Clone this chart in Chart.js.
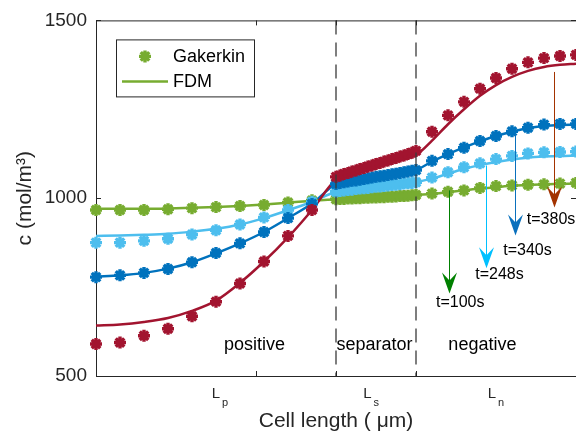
<!DOCTYPE html>
<html>
<head>
<meta charset="utf-8">
<script src="https://cdn.jsdelivr.net/npm/chart.js@4.4.0/dist/chart.umd.min.js"></script>
<style>
  html, body { margin: 0; padding: 0; background: #fff; overflow: hidden; }
  canvas { display: block; }
</style>
</head>
<body>
<canvas id="conc" width="576" height="438"></canvas>
<script>
// node positions along the cell: positive electrode, separator, negative electrode
const xPositive = [0, 0.3, 0.6, 0.9, 1.2, 1.5, 1.8, 2.1, 2.4, 2.7, 3.0];
const xSeparator = [3.05, 3.1, 3.15, 3.2, 3.25, 3.3, 3.35, 3.4, 3.45, 3.5,
                    3.55, 3.6, 3.65, 3.7, 3.75, 3.8, 3.85, 3.9, 3.95, 4.0];
const xNegative = [4.2, 4.4, 4.6, 4.8, 5.0, 5.2, 5.4, 5.6, 5.8, 6.0];
const xNodes = [...xPositive, ...xSeparator, ...xNegative];

// Galerkin solution, c in mol/m^3
const galT100 = [967, 967, 967, 969, 972, 975, 978, 981, 988, 994, 997,
                 998, 998, 999, 999, 1000, 1000, 1001, 1001, 1002, 1002,
                 1003, 1003, 1004, 1004, 1005, 1006, 1006, 1007, 1008, 1009,
                 1013, 1018, 1022, 1029, 1034, 1036, 1038, 1039, 1041, 1043];
const galT248 = [875, 875, 880, 886, 898, 910, 926, 946, 967, 990, 1018,
                 1020, 1022, 1023, 1024, 1026, 1027, 1028, 1029, 1031, 1032,
                 1033, 1034, 1036, 1037, 1038, 1039, 1041, 1042, 1043, 1045,
                 1058, 1073, 1087, 1098, 1110, 1119, 1126, 1129, 1130, 1131];
const galT340 = [778, 783, 790, 801, 820, 846, 873, 905, 944, 984, 1040,
                 1043, 1045, 1047, 1049, 1050, 1052, 1054, 1056, 1058, 1060,
                 1062, 1063, 1065, 1067, 1069, 1071, 1073, 1075, 1077, 1079,
                 1105, 1124, 1142, 1161, 1175, 1188, 1198, 1207, 1209, 1209];
const galT380 = [590, 594, 613, 633, 668, 709, 760, 822, 894, 967, 1060,
                 1064, 1068, 1071, 1075, 1078, 1082, 1085, 1089, 1092, 1096,
                 1099, 1103, 1106, 1110, 1113, 1117, 1120, 1124, 1128, 1133,
                 1187, 1233, 1271, 1308, 1338, 1364, 1382, 1394, 1400, 1403];

// finite difference solution on the same nodes
const fdmT100 = [970, 970, 970, 971, 973, 975, 978, 982, 987, 993, 997,
                 998, 998, 999, 999, 1000, 1000, 1001, 1001, 1002, 1002,
                 1003, 1003, 1004, 1004, 1005, 1006, 1006, 1007, 1008, 1009,
                 1012, 1017, 1022, 1027, 1031, 1035, 1037, 1039, 1040, 1041];
const fdmT248 = [894, 895, 897, 900, 906, 914, 926, 944, 966, 990, 1018,
                 1020, 1022, 1023, 1024, 1026, 1027, 1028, 1029, 1031, 1032,
                 1033, 1034, 1036, 1037, 1038, 1039, 1041, 1042, 1043, 1045,
                 1055, 1069, 1082, 1093, 1102, 1109, 1114, 1117, 1119, 1120];
const fdmT340 = [779, 783, 790, 802, 820, 845, 873, 905, 944, 985, 1040,
                 1043, 1045, 1047, 1049, 1050, 1052, 1054, 1056, 1058, 1060,
                 1062, 1063, 1065, 1067, 1069, 1071, 1073, 1075, 1077, 1079,
                 1103, 1124, 1143, 1160, 1175, 1187, 1197, 1203, 1206, 1207];
const fdmT380 = [642, 645, 652, 663, 683, 712, 762, 822, 890, 967, 1052,
                 1055, 1059, 1062, 1066, 1069, 1072, 1076, 1079, 1083, 1086,
                 1089, 1093, 1096, 1100, 1103, 1107, 1110, 1113, 1117, 1121,
                 1162, 1208, 1250, 1288, 1318, 1341, 1358, 1369, 1375, 1378];

const yTicks = [500, 1000, 1500];
const xTicks = [2, 3, 4];
const regionBounds = [3, 4];
const regionNames = ['positive', 'separator', 'negative'];
const regionCenters = [1.98, 3.48, 4.83];
const lengthSubs = ['p', 's', 'n'];
const lengthCenters = [1.55, 3.44, 5.0];

// time markers: arrow from the curve down to the tip, label below
const timeLabels = ['t=100s', 't=248s', 't=340s', 't=380s'];
const timeArrowX = [4.41, 4.88, 5.24, 5.73];
const timeArrowFrom = [1022, 1092, 1180, 1355];
const timeArrowTo = [732, 803, 895, 974];
const timeLabelX = [4.25, 4.74, 5.09, 5.385];
const timeLabelY = [706, 785, 854, 941];
const timeColors = ['#008000', '#00c0ff', '#0a70bd', '#a33300'];

const FONT = '"Liberation Sans", Arial, Helvetica, sans-serif';
const AXIS = '#262626';
const colors = { t100: '#77AC30', t248: '#4DBEEE', t340: '#0072BD', t380: '#A2142F' };

const pts = arr => arr.map((v, i) => ({ x: xNodes[i], y: v }));

const galerkin = (vals, color, order) => ({
  data: pts(vals), showLine: false, order, clip: false,
  pointStyle: 'star', pointRadius: 6, pointBorderWidth: 3.4,
  pointBorderColor: color, pointBackgroundColor: color
});
const fdm = (vals, color, order) => ({
  data: pts(vals), order, clip: false,
  borderColor: color, borderWidth: 2.5, pointRadius: 0,
  cubicInterpolationMode: 'monotone'
});

function drawStar(ctx, cx, cy, r) {
  ctx.beginPath();
  for (let k = 0; k < 4; k++) {
    const a = k * Math.PI / 4;
    ctx.moveTo(cx - Math.cos(a) * r, cy - Math.sin(a) * r);
    ctx.lineTo(cx + Math.cos(a) * r, cy + Math.sin(a) * r);
  }
  ctx.stroke();
}

function drawArrow(ctx, px, y0, y1, color) {
  ctx.strokeStyle = color;
  ctx.fillStyle = color;
  ctx.lineWidth = 1;
  ctx.beginPath();
  ctx.moveTo(px, y0);
  ctx.lineTo(px, y1 - 10);
  ctx.stroke();
  ctx.beginPath();
  ctx.moveTo(px, y1);
  ctx.lineTo(px - 7.5, y1 - 21);
  ctx.lineTo(px, y1 - 13);
  ctx.lineTo(px + 7.5, y1 - 21);
  ctx.closePath();
  ctx.fill();
}

// box, inward ticks, region markers, annotations and legend
const decor = {
  id: 'decor',
  afterDatasetsDraw(chart) {
    const { ctx, chartArea: a, scales: { x, y } } = chart;
    ctx.save();

    // electrode / separator boundaries
    ctx.setLineDash([14, 8]);
    ctx.strokeStyle = '#3a3a3a';
    ctx.lineWidth = 1.3;
    regionBounds.forEach(b => {
      const px = x.getPixelForValue(b);
      ctx.beginPath();
      ctx.moveTo(px, a.top);
      ctx.lineTo(px, a.bottom);
      ctx.stroke();
    });
    ctx.setLineDash([]);

    // top border and tick marks
    ctx.strokeStyle = AXIS;
    ctx.lineWidth = 1;
    ctx.beginPath();
    ctx.moveTo(a.left, a.top + 0.5);
    ctx.lineTo(a.right, a.top + 0.5);
    yTicks.forEach(v => {
      const py = Math.round(y.getPixelForValue(v)) + 0.5;
      ctx.moveTo(a.left, py); ctx.lineTo(a.left + 5, py);
      ctx.moveTo(a.right, py); ctx.lineTo(a.right - 5, py);
    });
    xTicks.forEach(v => {
      const px = Math.round(x.getPixelForValue(v)) + 0.5;
      ctx.moveTo(px, a.bottom); ctx.lineTo(px, a.bottom - 5);
      ctx.moveTo(px, a.top); ctx.lineTo(px, a.top + 5);
    });
    ctx.stroke();

    // region names
    ctx.fillStyle = '#000';
    ctx.font = '18px ' + FONT;
    ctx.textAlign = 'center';
    ctx.textBaseline = 'alphabetic';
    regionNames.forEach((name, i) => {
      ctx.fillText(name, x.getPixelForValue(regionCenters[i]), y.getPixelForValue(572));
    });

    // L_p, L_s, L_n under the axis
    ctx.fillStyle = AXIS;
    ctx.textAlign = 'left';
    lengthSubs.forEach((sub, i) => {
      ctx.font = '15px ' + FONT;
      const lw = ctx.measureText('L').width;
      ctx.font = '11px ' + FONT;
      const sw = ctx.measureText(sub).width;
      const left = x.getPixelForValue(lengthCenters[i]) - (lw + 2 + sw) / 2;
      ctx.font = '15px ' + FONT;
      ctx.fillText('L', left, a.bottom + 22);
      ctx.font = '11px ' + FONT;
      ctx.fillText(sub, left + lw + 2, a.bottom + 30);
    });

    // time arrows
    timeLabels.forEach((lab, i) => {
      const px = Math.round(x.getPixelForValue(timeArrowX[i])) + 0.5;
      drawArrow(ctx, px, y.getPixelForValue(timeArrowFrom[i]), y.getPixelForValue(timeArrowTo[i]), timeColors[i]);
      ctx.fillStyle = '#000';
      ctx.font = '16px ' + FONT;
      ctx.textAlign = 'left';
      ctx.textBaseline = 'middle';
      ctx.fillText(lab, x.getPixelForValue(timeLabelX[i]), y.getPixelForValue(timeLabelY[i]));
    });

    // legend
    const lx = a.left + 20, ly = a.top + 19;
    ctx.fillStyle = '#fff';
    ctx.fillRect(lx, ly, 138, 57);
    ctx.strokeStyle = AXIS;
    ctx.lineWidth = 1;
    ctx.strokeRect(lx + 0.5, ly + 0.5, 138, 57);
    ctx.strokeStyle = colors.t100;
    ctx.lineWidth = 3.4;
    drawStar(ctx, lx + 29, ly + 17, 6);
    ctx.lineWidth = 2.5;
    ctx.beginPath();
    ctx.moveTo(lx + 6, ly + 42);
    ctx.lineTo(lx + 52, ly + 42);
    ctx.stroke();
    ctx.fillStyle = '#000';
    ctx.font = '18px ' + FONT;
    ctx.textBaseline = 'middle';
    ctx.fillText('Gakerkin', lx + 57, ly + 18);
    ctx.fillText('FDM', lx + 57, ly + 43);

    ctx.restore();
  }
};

new Chart(document.getElementById('conc').getContext('2d'), {
  type: 'line',
  data: {
    datasets: [
      galerkin(galT380, colors.t380, 1),
      galerkin(galT340, colors.t340, 2),
      galerkin(galT248, colors.t248, 3),
      galerkin(galT100, colors.t100, 4),
      fdm(fdmT380, colors.t380, 5),
      fdm(fdmT340, colors.t340, 6),
      fdm(fdmT248, colors.t248, 7),
      fdm(fdmT100, colors.t100, 8)
    ]
  },
  options: {
    responsive: false,
    animation: false,
    layout: { autoPadding: false, padding: { top: 14, right: 0, left: 0, bottom: 0 } },
    plugins: { legend: { display: false }, tooltip: { enabled: false } },
    scales: {
      x: {
        type: 'linear', min: 0, max: 6,
        grid: { display: false, drawTicks: false },
        border: { display: true, color: AXIS, width: 1 },
        ticks: { display: false },
        title: {
          display: true, text: 'Cell length ( \u03bcm)', color: AXIS,
          font: { family: FONT, size: 21 }, padding: { top: 0, bottom: 4 }
        },
        afterFit: s => { s.height = 62; }
      },
      y: {
        min: 500, max: 1500,
        grid: { display: false, drawTicks: false },
        border: { display: true, color: AXIS, width: 1 },
        afterBuildTicks: s => { s.ticks = yTicks.map(v => ({ value: v })); },
        ticks: {
          color: AXIS, padding: 9, font: { family: FONT, size: 19 },
          callback: v => String(v)
        },
        title: {
          display: true, text: 'c (mol/m\u00b3)', color: AXIS,
          font: { family: FONT, size: 21 }, padding: { top: 13, bottom: 0 }
        },
        afterFit: s => { s.width = 96; }
      }
    }
  },
  plugins: [decor]
});
</script>
</body>
</html>
